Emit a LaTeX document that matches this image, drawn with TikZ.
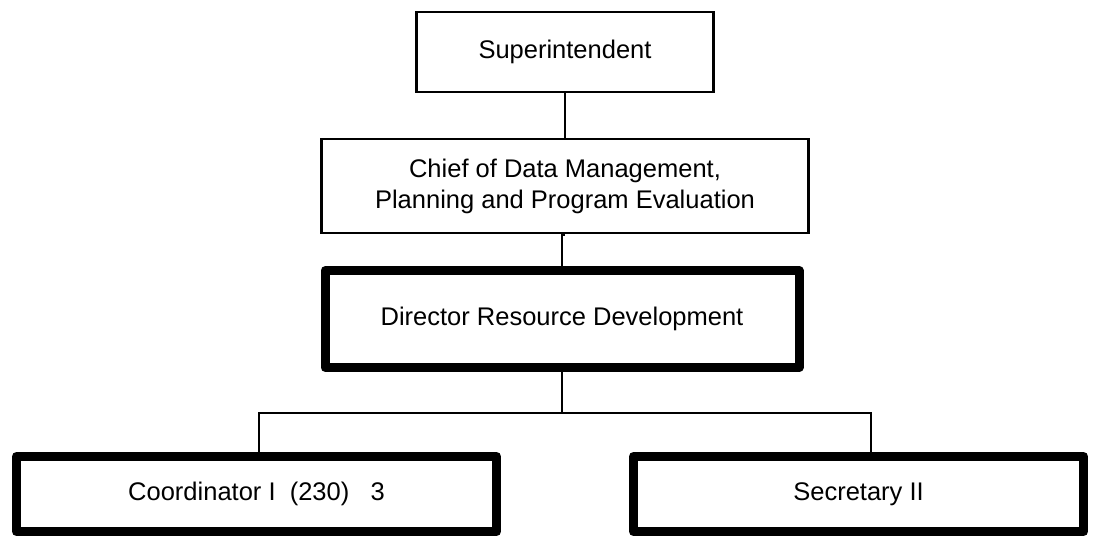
\documentclass[tikz,border=0pt]{standalone}
\usepackage{fontspec}
\setmainfont{Liberation Sans}
\begin{document}
\begin{tikzpicture}[x=1pt,y=-1pt,
  thinbox/.style={draw=black,line width=2.5pt,fill=white,rectangle,inner sep=0pt,align=center,
    font=\fontsize{25.5}{31}\selectfont},
  thickbox/.style={draw=black,line width=9pt,line join=round,fill=white,rectangle,inner sep=0pt,align=center,
    font=\fontsize{25.5}{31}\selectfont},
  conn/.style={draw=black,line width=2.5pt}]
\useasboundingbox (0,0) rectangle (1100,550);
\node[thinbox,minimum width=297pt,minimum height=80pt] (sup) at (565,52) {Superintendent};
\node[thinbox,minimum width=487pt,minimum height=94pt] (chief) at (565,186) {Chief of Data Management,\\Planning and Program Evaluation};
\node[thickbox,minimum width=474pt,minimum height=97pt] (dir) at (562,319) {Director Resource Development};
\node[thickbox,minimum width=480pt,minimum height=75pt] (coord) at (256.5,494) {Coordinator I\ \ (230)\ \ \ 3};
\node[thickbox,minimum width=450pt,minimum height=75pt] (sec) at (858.5,494) {Secretary II};
\coordinate (jL) at (259,413);
\coordinate (jR) at (871,413);
\coordinate (jM) at (dir.south |- jL);
\draw[conn] (sup.south) -- (sup.south |- chief.north);
\draw[conn] (chief.south) -- (chief.south -| dir.north) -- (dir.north);
\draw[conn] (dir.south) -- (jM);
\draw[conn] (jL |- coord.north) -- (jL) -- (jR) -- (jR |- sec.north);
\end{tikzpicture}
\end{document}
